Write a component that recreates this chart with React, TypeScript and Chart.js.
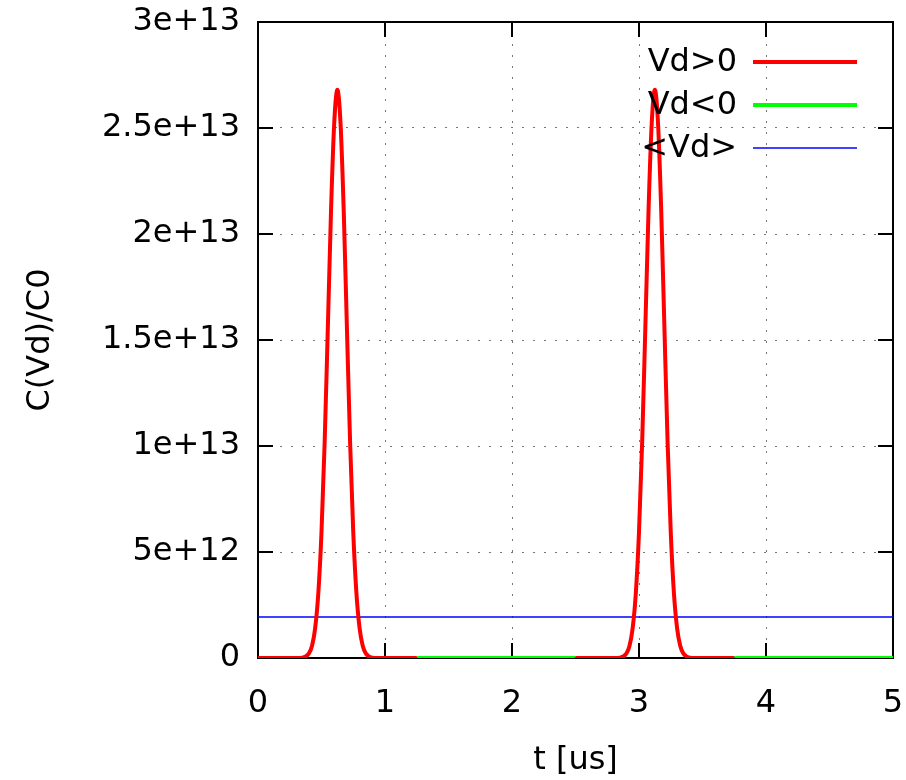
import React, { useEffect, useRef } from 'react';
import { Chart, registerables } from 'chart.js';

Chart.register(...registerables);

// Vd>0 portions (first and second half-period)
const posTimes1 = [0, 0.1, 0.2, 0.3, 0.35, 0.4, 0.425, 0.45, 0.475, 0.5, 0.525, 0.55, 0.575, 0.6, 0.625, 0.65, 0.675, 0.7, 0.725, 0.75, 0.775, 0.8, 0.825, 0.85, 0.9, 0.95, 1.0, 1.1, 1.25];
const posValues1 = [0, 0, 0, 1e9, 1.8e10, 2.03e11, 5.66e11, 1.4e12, 3.06e12, 5.94e12, 1.02e13, 1.56e13, 2.11e13, 2.52e13, 2.68e13, 2.52e13, 2.11e13, 1.56e13, 1.02e13, 5.94e12, 3.06e12, 1.4e12, 5.66e11, 2.03e11, 1.8e10, 1e9, 0, 0, 0];
const posTimes2 = [2.5, 2.6, 2.7, 2.8, 2.85, 2.9, 2.925, 2.95, 2.975, 3.0, 3.025, 3.05, 3.075, 3.1, 3.125, 3.15, 3.175, 3.2, 3.225, 3.25, 3.275, 3.3, 3.325, 3.35, 3.4, 3.45, 3.5, 3.6, 3.75];
const posValues2 = [0, 0, 0, 1e9, 1.8e10, 2.03e11, 5.66e11, 1.4e12, 3.06e12, 5.94e12, 1.02e13, 1.56e13, 2.11e13, 2.52e13, 2.68e13, 2.52e13, 2.11e13, 1.56e13, 1.02e13, 5.94e12, 3.06e12, 1.4e12, 5.66e11, 2.03e11, 1.8e10, 1e9, 0, 0, 0];

// Vd<0 portions
const negTimes1 = [1.25, 2.5];
const negValues1 = [0, 0];
const negTimes2 = [3.75, 5];
const negValues2 = [0, 0];

// <Vd> mean
const meanTimes = [0, 5];
const meanValues = [1.93e12, 1.93e12];

const seriesLabels = ['Vd>0', 'Vd<0', '<Vd>'];
const seriesColors = ['#ff0000', '#00ff00', '#0000ff'];
const seriesWidths = [4, 4, 1.5];

const xTickValues = [0, 1, 2, 3, 4, 5];
const xTickLabels = ['0', '1', '2', '3', '4', '5'];
const yTickValues = [0, 5e12, 1e13, 1.5e13, 2e13, 2.5e13, 3e13];
const yTickLabels = ['0', '5e+12', '1e+13', '1.5e+13', '2e+13', '2.5e+13', '3e+13'];

const FONT = '"DejaVu Sans", sans-serif';
const FONT_SIZE = 32;

const toPts = (ts: number[], vs: number[]) => ts.map((t, i) => ({ x: t, y: vs[i] as number | null }));

const framePlugin = {
  id: 'frame',
  beforeDatasetsDraw(chart: any) {
    const { ctx, chartArea } = chart;
    const { left, right, top, bottom } = chartArea;
    const xs = chart.scales.x;
    const ys = chart.scales.y;
    const L = 15;
    ctx.save();
    ctx.strokeStyle = '#000';
    ctx.lineWidth = 2;
    ctx.beginPath();
    xs.ticks.forEach((t: any) => {
      const px = xs.getPixelForValue(t.value);
      ctx.moveTo(px, bottom);
      ctx.lineTo(px, bottom - L);
      ctx.moveTo(px, top);
      ctx.lineTo(px, top + L);
    });
    ys.ticks.forEach((t: any) => {
      const py = ys.getPixelForValue(t.value);
      ctx.moveTo(left, py);
      ctx.lineTo(left + L, py);
      ctx.moveTo(right, py);
      ctx.lineTo(right - L, py);
    });
    ctx.stroke();
    ctx.strokeRect(left, top, right - left, bottom - top);
    ctx.restore();
  },
};

const legendPlugin = {
  id: 'gpLegend',
  afterDatasetsDraw(chart: any) {
    const { ctx, chartArea } = chart;
    const { right, top } = chartArea;
    ctx.save();
    ctx.font = `${FONT_SIZE}px ${FONT}`;
    ctx.textAlign = 'right';
    ctx.textBaseline = 'middle';
    seriesLabels.forEach((lab, i) => {
      const y = top + 40 + i * 43;
      ctx.fillStyle = '#000';
      ctx.fillText(lab, right - 156, y + 1);
      ctx.strokeStyle = seriesColors[i];
      ctx.lineWidth = seriesWidths[i];
      ctx.beginPath();
      ctx.moveTo(right - 140, y);
      ctx.lineTo(right - 36, y);
      ctx.stroke();
    });
    ctx.restore();
  },
};

export default function App() {
  const ref = useRef<HTMLCanvasElement | null>(null);
  useEffect(() => {
    if (!ref.current) return;
    const red = [...toPts(posTimes1, posValues1), { x: 1.875, y: null }, ...toPts(posTimes2, posValues2)];
    const green = [...toPts(negTimes1, negValues1), { x: 3.125, y: null }, ...toPts(negTimes2, negValues2)];
    const blue = toPts(meanTimes, meanValues);
    const datas = [red, green, blue];
    const chart = new Chart(ref.current, {
      type: 'line',
      data: {
        datasets: datas.map((d, i) => ({
          label: seriesLabels[i],
          data: d as any,
          borderColor: seriesColors[i],
          backgroundColor: seriesColors[i],
          borderWidth: seriesWidths[i],
          pointRadius: 0,
          fill: false,
          spanGaps: false,
          cubicInterpolationMode: 'monotone' as const,
        })),
      },
      options: {
        animation: false,
        responsive: false,
        events: [],
        layout: { padding: { top: 22, right: 13, left: 0, bottom: 0 } },
        plugins: { legend: { display: false }, tooltip: { enabled: false }, title: { display: false } },
        scales: {
          x: {
            type: 'linear',
            min: 0,
            max: 5,
            afterBuildTicks: (s: any) => { s.ticks = xTickValues.map((v) => ({ value: v })); },
            afterFit: (s: any) => {
              s.height = 122;
              s.paddingLeft = 0; s.paddingRight = 0; s.paddingTop = 0; s.paddingBottom = 0;
            },
            ticks: {
              callback: (_v: any, i: number) => xTickLabels[i],
              font: { family: FONT, size: FONT_SIZE },
              color: '#000',
              padding: 26,
              maxRotation: 0,
              autoSkip: false,
            },
            grid: { color: '#777777', lineWidth: 1, drawTicks: false },
            border: { display: false, dash: [2, 9] },
            title: {
              display: true,
              text: 't [us]',
              font: { family: FONT, size: FONT_SIZE },
              color: '#000',
              padding: { top: 0, bottom: 0 },
            },
          },
          y: {
            type: 'linear',
            min: 0,
            max: 3e13,
            afterBuildTicks: (s: any) => { s.ticks = yTickValues.map((v) => ({ value: v })); },
            afterFit: (s: any) => {
              s.width = 258;
              s.paddingLeft = 0; s.paddingRight = 0; s.paddingTop = 0; s.paddingBottom = 0;
            },
            ticks: {
              callback: (_v: any, i: number) => yTickLabels[i],
              font: { family: FONT, size: FONT_SIZE },
              color: '#000',
              padding: 18,
              autoSkip: false,
            },
            grid: { color: '#777777', lineWidth: 1, drawTicks: false },
            border: { display: false, dash: [2, 9] },
            title: {
              display: true,
              text: 'C(Vd)/C0',
              font: { family: FONT, size: FONT_SIZE },
              color: '#000',
              padding: { top: 21, bottom: 0 },
            },
          },
        },
      },
      plugins: [framePlugin, legendPlugin],
    });
    return () => chart.destroy();
  }, []);
  return (
    <div style={{ position: 'absolute', left: 0, top: 0, width: 906, height: 780, background: '#fff' }}>
      <canvas ref={ref} width={906} height={780} />
    </div>
  );
}
